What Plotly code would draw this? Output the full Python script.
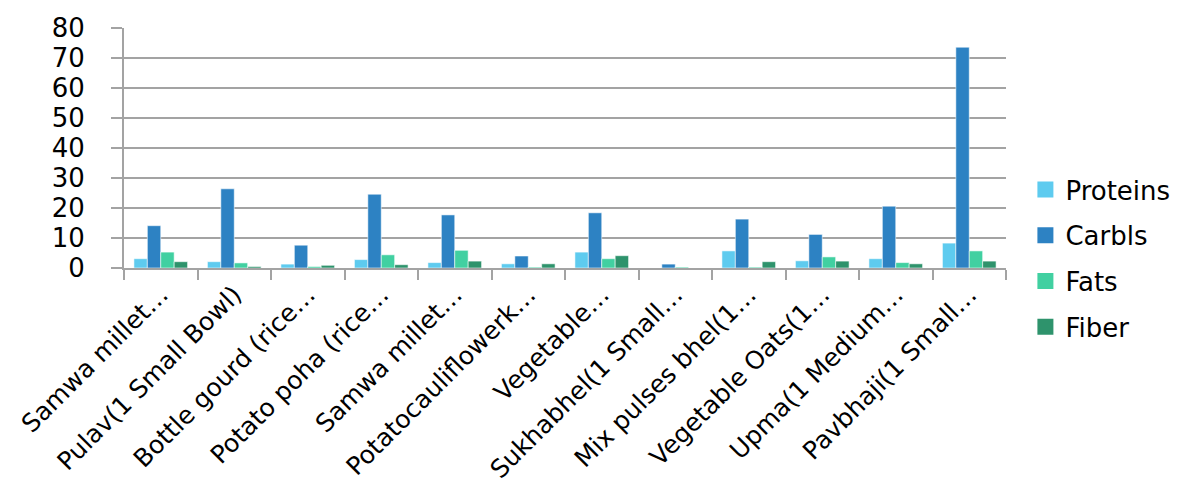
import plotly.graph_objects as go

# Dishes (labels are truncated the way they appear on the axis)
dishes = [
    "Samwa millet…", "Pulav(1 Small Bowl)", "Bottle gourd (rice…",
    "Potato poha (rice…", "Samwa millet…", "Potatocauliflowerk…",
    "Vegetable…", "Sukhabhel(1 Small…", "Mix pulses bhel(1…",
    "Vegetable Oats(1…", "Upma(1 Medium…", "Pavbhaji(1 Small…",
]

# Nutrient content per serving
proteins = [3.1, 2.1, 1.3, 2.8, 1.8, 1.4, 5.3, 0.0, 5.7, 2.4, 3.1, 8.3]
carbs    = [14.1, 26.4, 7.6, 24.6, 17.7, 4.0, 18.4, 1.3, 16.3, 11.2, 20.6, 73.6]
fats     = [5.3, 1.7, 0.5, 4.4, 5.9, 0.3, 3.1, 0.3, 0.3, 3.7, 1.8, 5.7]
fiber    = [2.1, 0.5, 0.9, 1.1, 2.3, 1.4, 4.1, 0.0, 2.1, 2.3, 1.4, 2.3]

series = [
    ("Proteins", proteins, "#5ECBEF"),
    ("Carbls", carbs, "#2D82C3"),
    ("Fats", fats, "#41D0A1"),
    ("Fiber", fiber, "#2E936C"),
]

FONT = "DejaVu Sans"
GRID = "#A3A3A3"
positions = list(range(len(dishes)))

fig = go.Figure()
for name, vals, col in series:
    fig.add_trace(go.Bar(
        x=positions, y=vals, name=name, showlegend=False,
        marker=dict(color=col, line=dict(color="rgba(255,255,255,0.55)", width=1)),
    ))

# Legend entries with larger square swatches
for i, (name, vals, col) in enumerate(series):
    fig.add_trace(go.Scatter(
        x=[None], y=[None], mode="markers", name=name,
        legendgroup=f"g{i}",
        marker=dict(symbol="square", size=16, color=col),
    ))

fig.update_layout(
    width=1189, height=497,
    margin=dict(l=124, r=183, t=28, b=229, autoexpand=False),
    paper_bgcolor="white", plot_bgcolor="white",
    barmode="group", bargap=0.27, bargroupgap=0,
    font=dict(family=FONT, color="black"),
    legend=dict(
        x=1.022, y=0.425, xanchor="left", yanchor="top",
        font=dict(size=26, family=FONT, color="black"),
        tracegroupgap=9, itemwidth=30,
    ),
)

fig.update_xaxes(
    range=[-0.5, len(dishes) - 0.5],
    tickmode="array", tickvals=positions, ticktext=dishes,
    tickangle=-45, tickfont=dict(size=25, family=FONT, color="black"),
    ticks="", showgrid=False, zeroline=False,
    showline=True, linecolor=GRID, linewidth=2,
    minor=dict(ticks="outside", tickmode="linear", tick0=-0.5, dtick=1,
               ticklen=10, tickwidth=2, tickcolor=GRID, showgrid=False),
    automargin=False,
)

fig.update_yaxes(
    range=[0, 80], dtick=10, tick0=0,
    tickfont=dict(size=26, family=FONT, color="black"),
    ticks="outside", ticklen=11, tickwidth=2, tickcolor=GRID,
    ticklabelstandoff=21,
    showgrid=True, gridcolor=GRID, gridwidth=2,
    zeroline=False, showline=True, linecolor=GRID, linewidth=2,
    automargin=False,
)

fig.write_html("out.html")
